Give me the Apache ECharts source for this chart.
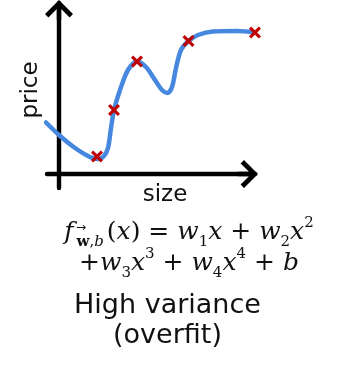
<!DOCTYPE html>
<html><head><meta charset="utf-8">
<script src="https://cdn.jsdelivr.net/npm/echarts@6/dist/echarts.min.js"></script>
<style>html,body{margin:0;padding:0;background:#fff}#c{width:342px;height:378px}</style>
</head><body><div id="c"></div>
<script>
// fitted (overfit) curve
const curveX = [-1.3, 0, 1.4, 2.9, 3.9, 4.5, 4.9, 5.2, 5.5, 6.1, 6.9, 7.8, 8.7, 9.6, 10.3, 10.85, 11.3, 11.7, 12.2, 12.95, 13.9, 15.4, 17.8, 19.6];
const curveY = [5.15, 3.9, 2.75, 1.8, 1.5, 1.8, 2.6, 4.6, 6.4, 8.4, 10.4, 11.25, 10.7, 9.4, 8.4, 8.1, 8.7, 10.6, 12.4, 13.3, 13.9, 14.25, 14.3, 14.15];
// training examples (red crosses)
const pointX = [3.8, 5.5, 7.8, 12.95, 19.6];
const pointY = [1.75, 6.4, 11.25, 13.3, 14.15];
const xLabel = 'size';
const yLabel = 'price';
const captionLines = ['High variance', '(overfit)'];

const curve = curveX.map((x, i) => [x, curveY[i]]);
const points = pointX.map((x, i) => [x, pointY[i]]);

const arrowPath = 'path://M15,0 L29,14 L25.6,17.4 L17.2,9 L17.2,20 L12.8,20 L12.8,9 L4.4,17.4 L1,14 Z';
const crossPath = 'path://M0,1.8 L1.8,0 L5,3.2 L8.2,0 L10,1.8 L6.8,5 L10,8.2 L8.2,10 L5,6.8 L1.8,10 L0,8.2 L3.2,5 Z';

const axisLine = {
  show: true, onZero: true,
  symbol: ['none', arrowPath], symbolSize: [28, 20], symbolOffset: [0, -7],
  lineStyle: { color: '#000', width: 4.4 }
};

const serif = '"DejaVu Serif"';
const mk = (size, italic, lh, va) => ({ fontFamily: serif, fontSize: size, fontStyle: italic ? 'italic' : 'normal', lineHeight: lh, verticalAlign: va, fill: '#111' });
const rich = {
  f: Object.assign(mk(25, true, 34, 'middle'), { padding: [0, 3, 0, 0] }),
  i: mk(25, true, 34, 'middle'),
  m: mk(25, false, 34, 'middle'),
  s: mk(15, false, 22, 'bottom'),
  si: Object.assign(mk(15, true, 22, 'bottom'), { padding: [0, 3, 0, 0] }),
  sb: Object.assign(mk(15, false, 22, 'bottom'), { fontWeight: 'bold' }),
  p: mk(15, false, 10, 'top')
};

const chart = echarts.init(document.getElementById('c'));
chart.setOption({
  animation: false,
  grid: { left: 47, right: 87, top: 3, bottom: 190 },
  xAxis: { type: 'value', min: -1.2, max: 19.6, axisLine, axisTick: { show: false }, axisLabel: { show: false }, splitLine: { show: false } },
  yAxis: { type: 'value', min: -1.4, max: 17.1, axisLine, axisTick: { show: false }, axisLabel: { show: false }, splitLine: { show: false } },
  series: [
    { type: 'line', data: curve, smooth: 0.3, showSymbol: false, clip: false,
      lineStyle: { color: '#4688e0', width: 4.5, cap: 'round', join: 'round' }, z: 3 },
    { type: 'scatter', data: points, symbol: crossPath, symbolSize: 12, clip: false,
      itemStyle: { color: '#c00000', opacity: 1 }, z: 4 }
  ],
  graphic: [
    { type: 'text', x: 31, y: 90, rotation: Math.PI / 2,
      style: { text: yLabel, font: '23px "DejaVu Sans"', fill: '#111', align: 'center', verticalAlign: 'middle' } },
    { type: 'text', x: 165, y: 195,
      style: { text: xLabel, font: '23px "DejaVu Sans"', fill: '#111', align: 'center', verticalAlign: 'middle' } },
    { type: 'text', x: 189, y: 232.5,
      style: { text: '{f|f}{sb|w}{s|,}{si|b}{m|(}{i|x}{m|) = }{i|w}{s|1}{i|x}{m| + }{i|w}{s|2}{i|x}{p|2}', rich, align: 'center', verticalAlign: 'middle' } },
    { type: 'text', x: 81, y: 228,
      style: { text: '\u2192', font: '12px "DejaVu Sans"', fill: '#111', align: 'center', verticalAlign: 'middle' } },
    { type: 'text', x: 189, y: 263.5,
      style: { text: '{m|+}{i|w}{s|3}{i|x}{p|3}{m| + }{i|w}{s|4}{i|x}{p|4}{m| + }{i|b}', rich, align: 'center', verticalAlign: 'middle' } },
    { type: 'text', x: 167.5, y: 305.5,
      style: { text: captionLines[0], font: '27px "DejaVu Sans"', fill: '#111', align: 'center', verticalAlign: 'middle' } },
    { type: 'text', x: 167.5, y: 335.5,
      style: { text: captionLines[1], font: '27px "DejaVu Sans"', fill: '#111', align: 'center', verticalAlign: 'middle' } }
  ]
});
</script></body></html>
